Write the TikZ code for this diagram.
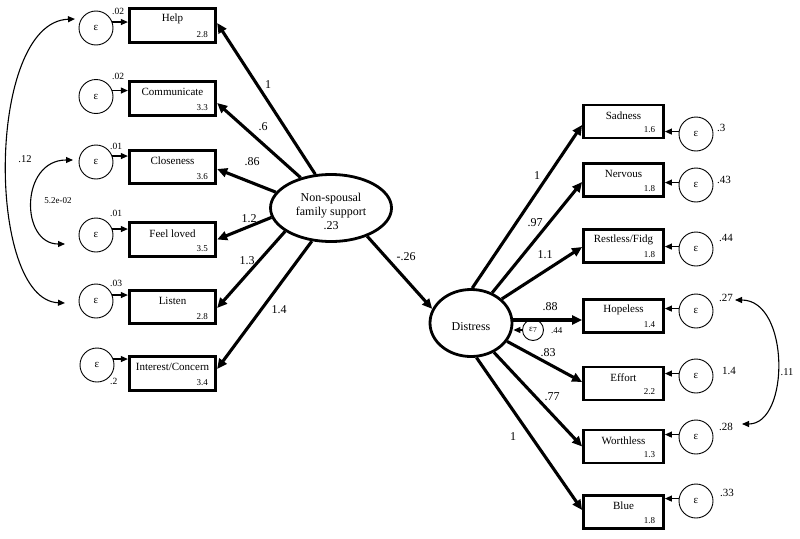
\documentclass[tikz,border=0pt]{standalone}
\usepackage{fontspec}
\setmainfont{Liberation Serif}
\usetikzlibrary{arrows.meta,shapes.geometric,calc}

\tikzset{
  obs/.style={draw, line width=2.8pt, minimum width=86.5pt, minimum height=33.5pt, inner sep=0pt},
  obsR/.style={obs, minimum width=80pt, minimum height=33pt},
  ttl/.style={font=\fontsize{11}{11}\selectfont, inner sep=0pt},
  val/.style={font=\fontsize{9}{9}\selectfont, inner sep=0pt, anchor=east},
  lat/.style={draw, ellipse, line width=2.8pt, inner sep=0pt},
  lattxt/.style={font=\fontsize{12}{14}\selectfont, align=center, inner sep=0pt},
  err/.style={draw, circle, line width=0.9pt, minimum size=34pt, inner sep=0pt, font=\fontsize{11}{11}\selectfont},
  load/.style={line width=3.1pt, -{Triangle[length=10pt,width=9pt]}},
  errarr/.style={line width=1.1pt, -{Triangle[length=7pt,width=6pt]}},
  cov/.style={line width=1.1pt, {Triangle[length=7pt,width=6pt]}-{Triangle[length=7pt,width=6pt]}},
  coef/.style={font=\fontsize{12}{12}\selectfont, inner sep=0pt},
  covlab/.style={font=\fontsize{10.5}{10.5}\selectfont, inner sep=0pt},
  evL/.style={font=\fontsize{9.5}{9.5}\selectfont, inner sep=0pt, anchor=west},
  evR/.style={font=\fontsize{11}{11}\selectfont, inner sep=0pt, anchor=west}
}

\newcommand{\obsnode}[8]{% style, name, x, y, title, value, title-shift, value-shift
  \node[#1] (#2) at (#3,#4) {};
  \node[ttl] (#2t) at ([yshift=-#7]#2.north) {#5};
  \node[val] (#2v) at ([xshift=-#8,yshift=#8]#2.south east) {#6};
}

\begin{document}
\begin{tikzpicture}[x=1pt,y=-1pt]
\useasboundingbox (0,0) rectangle (800,538);

% latent variables
\node[lat, minimum width=121pt, minimum height=67pt] (ns) at (331,208) {};
\node[lattxt] (nst) at (331,211) {Non-spousal\\family support\\.23};
\node[lat, minimum width=82pt, minimum height=67pt] (dist) at (471,323) {};
\node[lattxt] (distt) at (471,327) {Distress};

% left observed
\obsnode{obs}{help}{172.5}{25.5}{Help}{2.8}{12pt}{9pt}
\obsnode{obs}{comm}{172.5}{98.5}{Communicate}{3.3}{12pt}{9pt}
\obsnode{obs}{clos}{172.5}{167}{Closeness}{3.6}{12pt}{9pt}
\obsnode{obs}{feel}{172.5}{239.5}{Feel loved}{3.5}{12pt}{9pt}
\obsnode{obs}{list}{172.5}{307}{Listen}{2.8}{12pt}{9pt}
\obsnode{obs}{inte}{172.5}{373.5}{Interest/Concern}{3.4}{12pt}{9pt}

% right observed
\obsnode{obsR}{sad}{623.5}{121.5}{Sadness}{1.6}{12pt}{9.5pt}
\obsnode{obsR}{nerv}{623.5}{180}{Nervous}{1.8}{12pt}{9.5pt}
\obsnode{obsR}{rest}{623.5}{246}{Restless/Fidg}{1.8}{12pt}{9.5pt}
\obsnode{obsR}{hope}{623.5}{316}{Hopeless}{1.4}{12pt}{9.5pt}
\obsnode{obsR}{eff}{623.5}{383.5}{Effort}{2.2}{12pt}{9.5pt}
\obsnode{obsR}{wort}{623.5}{446.5}{Worthless}{1.3}{12pt}{9.5pt}
\obsnode{obsR}{blue}{623.5}{512}{Blue}{1.8}{12pt}{9.5pt}

% left error terms
\node[err] (ehelp) at (96,28) {ε};
\node[err] (ecomm) at (96,96.5) {ε};
\node[err] (eclos) at (96,162) {ε};
\node[err] (efeel) at (96,235) {ε};
\node[err] (elist) at (96,301) {ε};
\node[err] (einte) at (97,365) {ε};
\foreach \e/\b in {ehelp/help,ecomm/comm,eclos/clos,efeel/feel,elist/list,einte/inte}
  \draw[errarr] (\e.20) -- (\e.20 -| \b.west);
\node[evL] (vhelp) at (112,11) {.02};
\node[evL] (vcomm) at (112,76) {.02};
\node[evL] (vclos) at (110,146) {.01};
\node[evL] (vfeel) at (110,213) {.01};
\node[evL] (vlist) at (110,283) {.03};
\node[evL] (vinte) at (110,381) {.2};

% right error terms
\node[err] (esad) at (696,134) {ε};
\node[err] (enerv) at (696,185) {ε};
\node[err] (erest) at (696,249) {ε};
\node[err] (ehope) at (696,311) {ε};
\node[err] (eeff) at (696,376) {ε};
\node[err] (ewort) at (696,437) {ε};
\node[err] (eblue) at (696,501) {ε};
\foreach \e/\b in {esad/sad,enerv/nerv,erest/rest,ehope/hope,eeff/eff,ewort/wort,eblue/blue}
  \draw[errarr] (\e.172) -- (\e.172 -| \b.east);
\node[evR] (vsad) at (717,128) {.3};
\node[evR] (vnerv) at (717,180) {.43};
\node[evR] (vrest) at (719,238) {.44};
\node[evR] (vhope) at (719,298) {.27};
\node[evR] (veff) at (722,371) {1.4};
\node[evR] (vwort) at (719,427) {.28};
\node[evR] (vblue) at (720,493) {.33};

% disturbance of Distress
\node[draw, circle, line width=0.9pt, minimum size=21pt, inner sep=0pt, font=\fontsize{9}{9}\selectfont] (e7) at (533,330) {ε\raisebox{-0.35ex}{\fontsize{7.5}{7.5}\selectfont 7}};
\draw[errarr] (e7.west) -- (e7.west -| dist.east);
\node[font=\fontsize{9}{9}\selectfont, inner sep=0pt, anchor=west] (v7) at (551,331) {.44};

% loadings from non-spousal support
\draw[load] (ns.115) -- ([yshift=2.5pt]help.east);
\draw[load] (ns.135) -- ([yshift=-4.5pt]comm.east);
\draw[load] (ns.164) -- ([yshift=-2pt]clos.east);
\draw[load] (ns.189) -- (feel.east);
\draw[load] (ns.207) -- ([yshift=-1pt]list.east);
\draw[load] (ns.240) -- ([yshift=4.5pt]inte.east);
\draw[load] (ns.-38) -- (dist.160);

% loadings from Distress
\draw[load] (dist.88) -- ([yshift=-3.5pt]sad.west);
\draw[load] (dist.55) -- ([yshift=-2pt]nerv.west);
\draw[load] (dist.38) -- ([yshift=-1pt]rest.west);
\coordinate (hopein) at ([yshift=-4pt]hope.west);
\draw[load] (dist.east |- hopein) -- (hopein);
\draw[load] (dist.-27) -- ([yshift=1.5pt]eff.west);
\draw[load] (dist.-52) -- (wort.west);
\draw[load] (dist.-81) -- ([yshift=2pt]blue.west);

% coefficient labels
\node[coef] (k1) at (268,85) {1};
\node[coef] (k2) at (263,127) {.6};
\node[coef] (k3) at (252,162) {.86};
\node[coef] (k4) at (249,219) {1.2};
\node[coef] (k5) at (247,261) {1.3};
\node[coef] (k6) at (279,310) {1.4};
\node[coef] (k7) at (406,257) {-.26};
\node[coef] (d1) at (537,176) {1};
\node[coef] (d2) at (535,223) {.97};
\node[coef] (d3) at (545,255) {1.1};
\node[coef] (d4) at (550,307) {.88};
\node[coef] (d5) at (548,353) {.83};
\node[coef] (d6) at (552,397) {.77};
\node[coef] (d7) at (513,437) {1};

% covariances
\coordinate (l12a) at (75,19);
\coordinate (l12b) at (65,303);
\draw[cov] (l12a) .. controls (-14,22) and (-14,300) .. (l12b);
\node[covlab] (c12) at (25,159) {.12};
\coordinate (l52a) at (73,160);
\coordinate (l52b) at (65,244);
\draw[cov] (l52a) .. controls (20,160) and (20,244) .. (l52b);
\node[font=\fontsize{9}{9}\selectfont, inner sep=0pt] (c52) at (58,201) {5.2e-02};
\coordinate (r11a) at (735,300);
\coordinate (r11b) at (742,424);
\draw[cov] (r11a) .. controls (790,300) and (790,424) .. (r11b);
\node[covlab] (c11) at (787,372) {.11};
\end{tikzpicture}
\end{document}
